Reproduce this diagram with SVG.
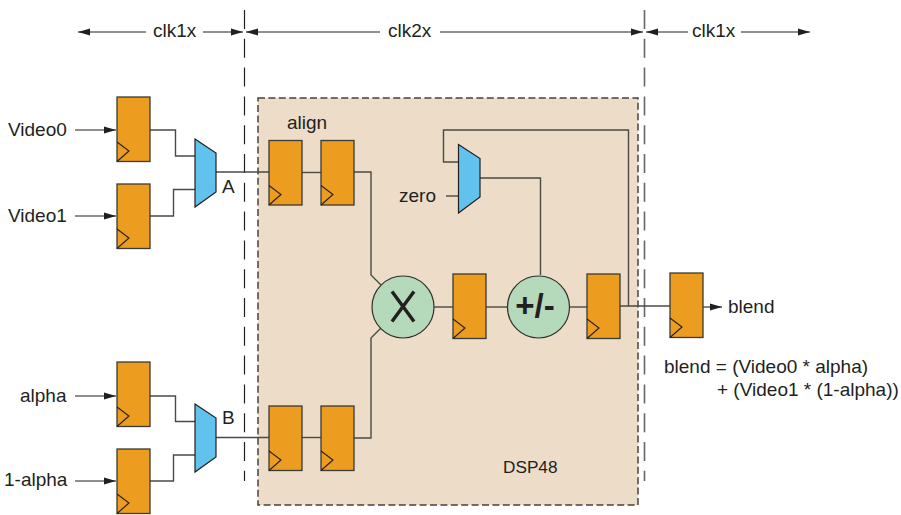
<svg xmlns="http://www.w3.org/2000/svg" width="901" height="515" viewBox="0 0 901 515">
<defs>
<marker id="arr" markerUnits="userSpaceOnUse" markerWidth="13" markerHeight="8" refX="12" refY="4" orient="auto-start-reverse"><path d="M0,0.500L12,4L0,7.500Z" fill="#231f20"/></marker>
<g id="ff"><rect x="0" y="0" width="33" height="64.500" fill="#ec9c1f" stroke="#3a3a36" stroke-width="1.300"/><path d="M0,45L12,54L0,64.500" fill="none" stroke="#231f20" stroke-width="1.100"/></g>
</defs>
<style>
text{font-family:"Liberation Sans",Arial,sans-serif;font-size:19px;fill:#231f20}
.w{fill:none;stroke:#4a4a44;stroke-width:1.400}
.a{fill:none;stroke:#231f20;stroke-width:1.100;marker-end:url(#arr)}
.d{fill:none;stroke:#231f20;stroke-width:1.200;stroke-dasharray:19 9.800}
.m{fill:#62c2ee;stroke:#231f20;stroke-width:1.200}
.c{fill:#b5d9bb;stroke:#2f2f2b;stroke-width:1.200}
</style>
<g id="panel"><rect x="258" y="98" width="380" height="407" fill="#ecdcc8" stroke="#45433f" stroke-width="1.500" stroke-dasharray="7 3.400"/><text x="503" y="473" style="font-size:17.200px">DSP48</text></g>
<g id="connectors">
<path class="d" d="M244.500,10V481"/><path class="d" d="M644.500,10V481" style="stroke:#666;stroke-width:1.600"/>
<path class="a" d="M146,32H78"/><path class="a" d="M203,32H243"/>
<path class="a" d="M380,32H246"/><path class="a" d="M440,32H643"/>
<path class="a" d="M688,32H646"/><path class="a" d="M741,32H810"/>
<path class="a" d="M75,130H116"/><path class="a" d="M75,216H116"/><path class="a" d="M75,396H116"/><path class="a" d="M75,481H116"/>
<path class="w" d="M150,130H175.500V156H195"/><path class="w" d="M150,216H173.500V189.500H195"/>
<path class="w" d="M150,396H175.500V421.500H195"/><path class="w" d="M150,481H173.500V455H195"/>
<path class="w" d="M216,172H269"/><path class="w" d="M216,437.500H269"/>
<path class="w" d="M302,172.500H321"/><path class="w" d="M302,437.500H321"/>
<path class="w" d="M354,172H371V275L381,285"/><path class="w" d="M354,438H371V338L381,328"/>
<path class="w" d="M434,307H453"/><path class="w" d="M486,307H508"/><path class="w" d="M570,307H587"/>
<path class="w" d="M620,306H670"/><path class="a" d="M703,307H722"/>
<path class="w" d="M628.500,306V130H443.500V162H458"/>
<path class="w" d="M480,178H540.500V275"/><path class="w" d="M446,196H458"/>
</g>
<g id="reg-video0"><use href="#ff" x="117" y="97"/></g>
<g id="reg-video1"><use href="#ff" x="117" y="184"/></g>
<g id="reg-alpha"><use href="#ff" x="117" y="362"/></g>
<g id="reg-1alpha"><use href="#ff" x="117" y="449"/></g>
<g id="reg-a1"><use href="#ff" x="269" y="140.500"/></g>
<g id="reg-a2"><use href="#ff" x="321" y="140.500"/></g>
<g id="reg-b1"><use href="#ff" x="269" y="406"/></g>
<g id="reg-b2"><use href="#ff" x="321" y="406"/></g>
<g id="reg-m"><use href="#ff" x="453" y="274"/></g>
<g id="reg-p"><use href="#ff" x="587" y="274"/></g>
<g id="reg-out"><use href="#ff" x="670" y="273"/></g>
<g id="mux-a"><path class="m" d="M195,139L216,153V192L195,207Z"/></g>
<g id="mux-b"><path class="m" d="M195,404L216,418V457L195,472Z"/></g>
<g id="mux-z"><path class="m" d="M458.500,144.500L480,158.500V197L458.500,213Z"/></g>
<g id="mult"><circle class="c" cx="403" cy="307" r="31"/><path d="M392,291.500L414,321.500M414,291.500L392,321.500" fill="none" stroke="#231f20" stroke-width="3.400"/></g>
<g id="addsub"><circle class="c" cx="538.500" cy="307" r="31"/><text x="535" y="317" text-anchor="middle" style="font-size:33px;font-weight:bold">+/-</text></g>
<g id="labels">
<text x="153" y="37">clk1x</text><text x="388" y="37">clk2x</text><text x="692" y="37">clk1x</text>
<text x="8" y="136">Video0</text><text x="8" y="222">Video1</text><text x="20" y="402">alpha</text><text x="4" y="486">1-alpha</text>
<text x="222" y="193">A</text><text x="222" y="424">B</text>
<text x="287" y="129">align</text><text x="399" y="202">zero</text><text x="728" y="313">blend</text>
<text x="664" y="373">blend = (Video0 * alpha)</text><text x="717" y="396">+ (Video1 * (1-alpha))</text>
</g>
</svg>
